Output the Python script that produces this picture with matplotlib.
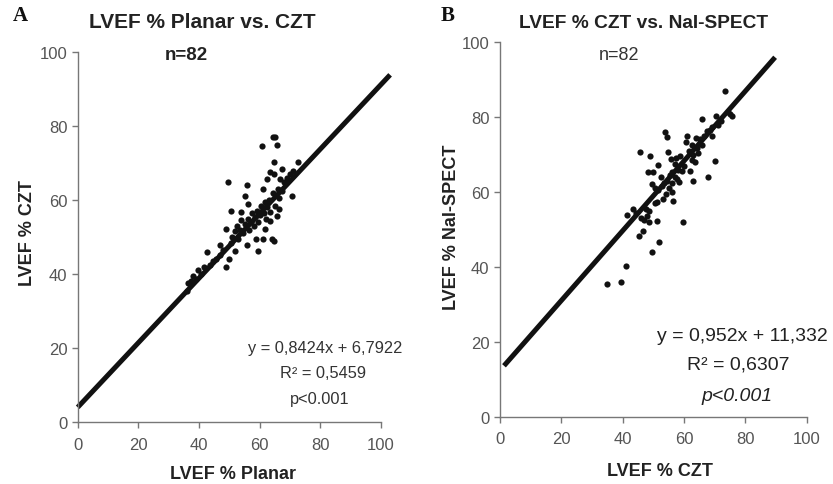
import matplotlib
matplotlib.use("Agg")
import matplotlib.pyplot as plt
from matplotlib import font_manager

# ---------------- data ----------------
planar_a = [36.0, 36.5, 37.5, 38.0, 39.0, 39.8, 40.5, 41.5, 42.7, 43.5, 44.5, 45.5, 46.9, 47.0,
            48.0, 48.9, 49.8, 48.9, 49.7, 50.5, 51.0, 51.9, 50.7, 52.0, 52.5, 53.0, 53.7, 53.5,
            54.0, 54.5, 55.0, 55.2, 55.7, 55.8, 56.3, 56.0, 56.5, 57.0, 57.5, 58.0, 58.5, 58.8,
            59.4, 59.0, 59.5, 60.0, 60.5, 60.9, 61.2, 61.2, 61.8, 61.8, 61.5, 62.0, 62.5, 62.5,
            63.0, 63.4, 63.4, 63.4, 63.9, 64.7, 64.3, 65.1, 65.6, 64.8, 64.8, 64.5, 65.0, 65.8,
            66.5, 66.0, 66.7, 67.4, 66.5, 67.5, 68.0, 69.0, 70.0, 70.6, 71.1, 72.7]
czt_a = [35.5, 37.5, 38.0, 39.5, 38.5, 41.2, 40.0, 42.0, 46.0, 42.5, 43.5, 44.0, 47.7, 45.0,
         46.5, 41.8, 44.0, 52.3, 65.0, 48.5, 50.0, 46.3, 57.0, 51.5, 53.0, 49.5, 56.7, 52.0,
         54.5, 51.0, 53.5, 61.2, 64.1, 47.8, 58.9, 55.0, 52.0, 54.0, 56.5, 53.0, 55.5, 49.5,
         46.3, 57.0, 54.0, 56.0, 58.5, 74.5, 63.0, 49.5, 52.2, 59.4, 56.5, 55.0, 65.7, 58.0,
         60.0, 67.5, 54.4, 56.7, 49.5, 49.0, 77.0, 77.0, 74.9, 70.2, 67.1, 62.0, 58.5, 55.8,
         57.6, 63.0, 65.7, 68.4, 60.5, 62.5, 65.0, 66.0, 67.0, 61.2, 67.9, 70.4]
fit_a_x = [0.0, 103.0]
fit_a_y = [3.9, 93.9]

czt_b = [34.8, 39.3, 41.1, 41.5, 43.3, 44.5, 45.7, 45.2, 46.7, 46.0, 48.0, 48.5, 48.7, 49.6,
         51.2, 52.0, 51.3, 48.9, 48.3, 50.0, 49.6, 51.6, 53.9, 54.3, 54.9, 55.7, 52.7, 53.3,
         56.5, 56.0, 57.6, 58.5, 57.1, 58.7, 61.1, 60.7, 59.8, 62.0, 63.0, 63.6, 64.1, 65.2,
         65.8, 67.4, 67.7, 69.0, 70.1, 70.4, 73.4, 75.0, 75.5, 74.5, 72.0, 71.0, 68.5, 66.5,
         66.0, 64.5, 63.0, 62.5, 61.5, 60.0, 59.5, 58.0, 57.0, 56.0, 55.5, 55.0, 54.5, 54.0,
         53.5, 52.5, 51.5, 50.5, 50.5, 47.5, 47.0, 56.0, 57.5, 62.5, 64.0, 69.0]
nai_b = [35.4, 36.1, 40.3, 53.9, 55.5, 54.5, 70.6, 48.2, 49.7, 53.0, 53.7, 55.0, 51.9, 43.9,
         52.4, 46.7, 57.3, 69.7, 65.3, 65.3, 62.2, 67.1, 76.0, 74.6, 70.6, 68.8, 61.7, 58.2,
         57.7, 65.3, 63.5, 62.8, 67.5, 69.7, 75.1, 73.3, 51.9, 65.7, 63.0, 67.9, 71.9, 74.2,
         79.5, 76.4, 63.9, 75.1, 68.4, 80.4, 87.1, 80.9, 80.4, 81.5, 79.0, 78.0, 76.5, 75.0,
         72.5, 70.5, 70.0, 68.5, 71.0, 67.0, 65.5, 66.0, 64.0, 62.5, 64.5, 61.0, 63.0, 59.5,
         62.5, 64.0, 60.5, 61.0, 57.0, 55.5, 52.5, 60.0, 69.0, 72.5, 74.5, 77.5]
fit_b_x = [1.3, 89.7]
fit_b_y = [13.6, 96.0]

ticks = [0, 20, 40, 60, 80, 100]
tick_labels = ["0", "20", "40", "60", "80", "100"]

# ---------------- fonts ----------------
avail = {f.name for f in font_manager.fontManager.ttflist}
narrow = "Liberation Sans Narrow" if "Liberation Sans Narrow" in avail else "Liberation Sans"
NARROW = [narrow, "DejaVu Sans"]
SANS = ["Liberation Sans", "DejaVu Sans"]
SERIF = ["Liberation Serif", "DejaVu Serif"]

W, H = 833, 485
fig = plt.figure(figsize=(W / 100, H / 100), dpi=100)
fig.patch.set_facecolor("white")


def ax_rect(x0, x1, y0, y1):
    return [x0 / W, 1 - y0 / H, (x1 - x0) / W, (y0 - y1) / H]


def fx(px):
    return px / W


def fy(py):
    return 1 - py / H


def style(ax, xpad):
    ax.set_xlim(0, 100)
    ax.set_ylim(0, 100)
    for s in ("top", "right"):
        ax.spines[s].set_visible(False)
    for s in ("left", "bottom"):
        ax.spines[s].set_color("#777777")
        ax.spines[s].set_linewidth(1.0)
    ax.set_xticks(ticks)
    ax.set_yticks(ticks)
    ax.set_xticklabels(tick_labels)
    ax.set_yticklabels(tick_labels)
    ax.tick_params(direction="out", length=4, width=1.0, color="#777777",
                   labelcolor="#555555", labelsize=12)
    ax.tick_params(axis="y", pad=3.5)
    ax.tick_params(axis="x", pad=xpad)
    for lab in ax.get_xticklabels() + ax.get_yticklabels():
        lab.set_family(NARROW)
    ax.set_facecolor("white")


def place_labels(ax, xl, yl, x0, x1, y0, y1, xlab_px, ylab_px):
    ax.set_xlabel(xl, fontsize=13, fontweight="bold", family=SANS, color="#222222")
    ax.set_ylabel(yl, fontsize=13, fontweight="bold", family=SANS, color="#222222")
    ax.xaxis.set_label_coords((xlab_px[0] - x0) / (x1 - x0), (y0 - xlab_px[1]) / (y0 - y1))
    ax.yaxis.set_label_coords((ylab_px[0] - x0) / (x1 - x0), (y0 - ylab_px[1]) / (y0 - y1))
    ax.xaxis.label.set_verticalalignment("center")
    ax.yaxis.label.set_verticalalignment("center")


# Panel A
A = (77.7, 381.0, 422.7, 53.3)
axA = fig.add_axes(ax_rect(*A))
style(axA, 7)
axA.plot(fit_a_x, fit_a_y, color="#111111", lw=3.6, solid_capstyle="butt",
         clip_on=False, zorder=2)
axA.scatter(planar_a, czt_a, s=20, color="#111111", zorder=3, clip_on=False, linewidths=0)
place_labels(axA, "LVEF % Planar", "LVEF % CZT", *A, (233, 475), (28, 233))

# Panel B
B = (500.0, 806.7, 417.7, 43.3)
axB = fig.add_axes(ax_rect(*B))
style(axB, 6)
axB.plot(fit_b_x, fit_b_y, color="#111111", lw=3.6, solid_capstyle="butt",
         clip_on=False, zorder=2)
axB.scatter(czt_b, nai_b, s=20, color="#111111", zorder=3, clip_on=False, linewidths=0)
place_labels(axB, "LVEF % CZT", "LVEF % NaI-SPECT", *B, (660, 472), (452, 227))

# Titles and letters
fig.text(fx(20), fy(16), "A", fontsize=15, fontweight="bold", family=SERIF,
         ha="center", va="center", color="#111111")
fig.text(fx(448), fy(16), "B", fontsize=15, fontweight="bold", family=SERIF,
         ha="center", va="center", color="#111111")
fig.text(fx(202), fy(23), "LVEF % Planar vs. CZT", fontsize=15, fontweight="bold",
         family=SANS, ha="center", va="center", color="#222222")
fig.text(fx(186), fy(55), "n=82", fontsize=13.5, fontweight="bold",
         family=SANS, ha="center", va="center", color="#222222")
fig.text(fx(644), fy(24), "LVEF % CZT vs. NaI-SPECT", fontsize=13.8, fontweight="bold",
         family=SANS, ha="center", va="center", color="#222222")
fig.text(fx(619), fy(55), "n=82", fontsize=13,
         family=SANS, ha="center", va="center", color="#333333")

# Regression annotations
fig.text(fx(325), fy(348), "y = 0,8424x + 6,7922", fontsize=11.8, family=NARROW,
         ha="center", va="center", color="#333333")
fig.text(fx(323), fy(374), "R² = 0,5459", fontsize=11.8, family=NARROW,
         ha="center", va="center", color="#333333")
fig.text(fx(320), fy(400), "p<0.001", fontsize=11.8, family=NARROW,
         ha="center", va="center", color="#333333")

fig.text(fx(742), fy(337), "y = 0,952x + 11,332", fontsize=14, family=NARROW,
         ha="center", va="center", color="#222222")
fig.text(fx(738), fy(365), "R² = 0,6307", fontsize=14, family=NARROW,
         ha="center", va="center", color="#222222")
fig.text(fx(737), fy(397), "p<0.001", fontsize=14, family=NARROW, style="italic",
         ha="center", va="center", color="#222222")

fig.savefig("out.png", dpi=100, facecolor="white")
